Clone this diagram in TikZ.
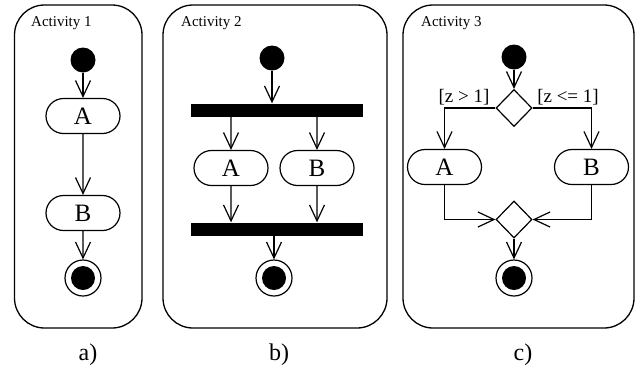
\documentclass[tikz,border=0pt]{standalone}
\usepackage{fontspec}
\setmainfont{Liberation Serif}
\usetikzlibrary{arrows.meta,shapes.misc,shapes.geometric}
\begin{document}
\begin{tikzpicture}[x=1pt,y=-1pt,
  frame/.style={draw,line width=1.3pt,rounded corners=30pt},
  act/.style={draw,line width=1.2pt,rounded rectangle,minimum width=74pt,minimum height=35pt,inner sep=0pt,font=\fontsize{25}{25}\selectfont},
  init/.style={circle,fill=black,minimum size=25pt,inner sep=0pt},
  final/.style={circle,draw,line width=1.2pt,minimum size=36pt,inner sep=0pt,path picture={\fill[black] (path picture bounding box.center) circle (12pt);}},
  bar/.style={rectangle,fill=black,minimum width=172pt,minimum height=13pt,inner sep=0pt},
  decision/.style={diamond,draw,line width=1.2pt,minimum width=36pt,minimum height=37pt,inner sep=0pt},
  flow/.style={line width=1.2pt,-{Straight Barb[length=16pt,width=15pt,line width=1.2pt]}},
  title/.style={anchor=west,inner sep=0pt,font=\fontsize{15}{15}\selectfont},
  guard/.style={inner sep=0pt,font=\fontsize{19}{19}\selectfont},
  caption/.style={inner sep=0pt,font=\fontsize{24}{24}\selectfont}]
\useasboundingbox (0,0) rectangle (636,368);

% frames
\draw[frame] (14.5,5) rectangle (142,328);
\draw[frame] (163,5) rectangle (387,328);
\draw[frame] (403,5) rectangle (634,328);

% panel a
\node[title] (t1) at (31,23) {Activity 1};
\node[init] (i1) at (83,60) {};
\node[act] (a1) at (83,116) {A};
\node[act] (b1) at (83,213) {B};
\node[final] (f1) at (83,278) {};
\draw[flow] (i1) -- (a1);
\draw[flow] (a1) -- (b1);
\draw[flow] (b1) -- (f1);
\node[caption] (ca) at (88,355) {a)};

% panel b
\node[title] (t2) at (181,23) {Activity 2};
\node[init] (i2) at (272,58) {};
\node[bar] (fork) at (277,110) {};
\node[act] (a2) at (231,168) {A};
\node[act] (b2) at (317,168) {B};
\node[bar] (join) at (277,229) {};
\node[final] (f2) at (274,278) {};
\draw[flow] (i2) -- (i2 |- fork.north);
\draw[flow] (fork.south -| a2) -- (a2);
\draw[flow] (fork.south -| b2) -- (b2);
\draw[flow] (a2) -- (a2 |- join.north);
\draw[flow] (b2) -- (b2 |- join.north);
\draw[flow] (join.south -| f2) -- (f2);
\node[caption] (cb) at (279,355) {b)};

% panel c
\node[title] (t3) at (421,23) {Activity 3};
\node[init] (i3) at (514,57) {};
\node[decision] (dec) at (514,108) {};
\node[act] (a3) at (444.5,167) {A};
\node[act] (b3) at (591.5,167) {B};
\node[decision] (mrg) at (514,219.5) {};
\node[final] (f3) at (514,278) {};
\draw[flow] (i3) -- (dec.north);
\draw[flow] (dec.west) -| (a3.north);
\draw[flow] (dec.east) -| (b3.north);
\draw[flow] (a3.south) |- (mrg.west);
\draw[flow] (b3.south) |- (mrg.east);
\draw[flow] (mrg.south) -- (f3);
\node[guard] (g1) at (464,97) {[z > 1]};
\node[guard] (g2) at (568,97) {[z <= 1]};
\node[caption] (cc) at (523,355) {c)};
\end{tikzpicture}
\end{document}
